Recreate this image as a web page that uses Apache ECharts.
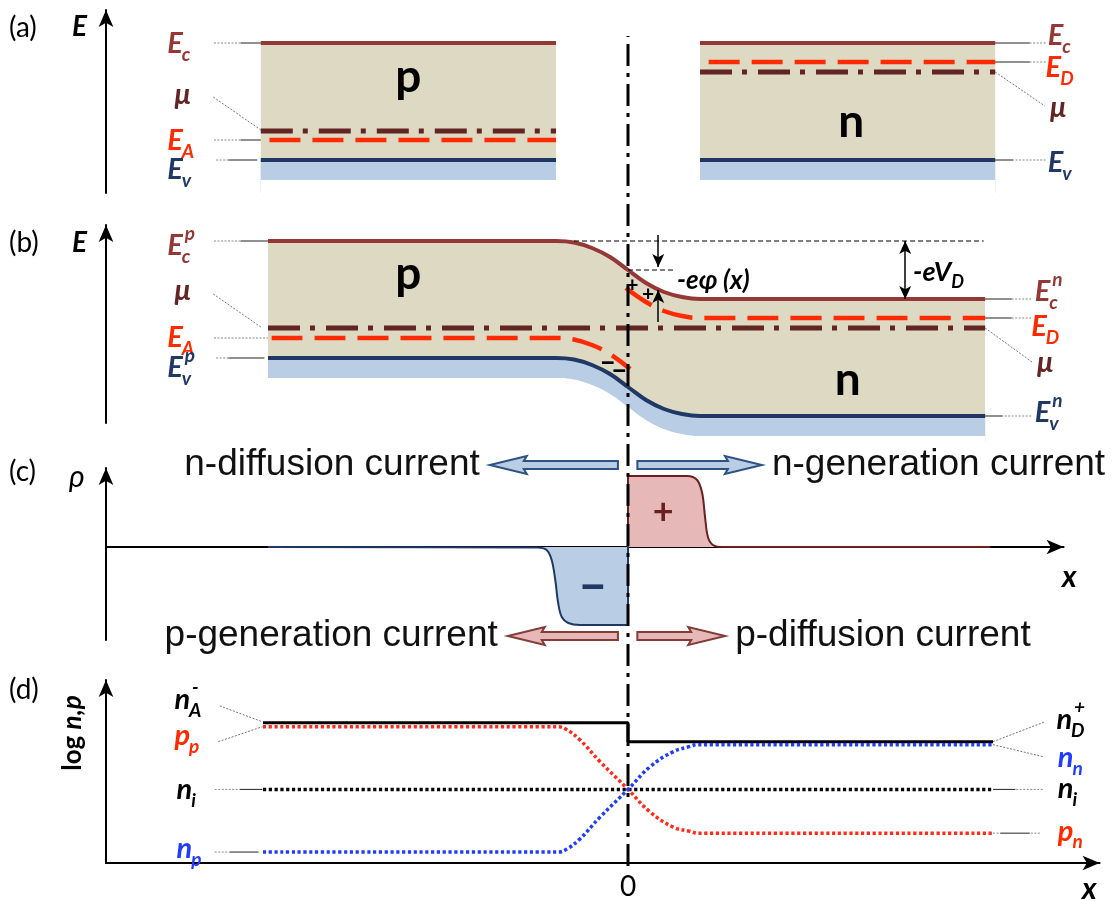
<!DOCTYPE html>
<html>
<head>
<meta charset="utf-8">
<title>p-n junction: bands, charge and carrier densities</title>
<script src="https://cdn.jsdelivr.net/npm/echarts@6.0.0/dist/echarts.min.js"></script>
<style>
html, body { margin: 0; padding: 0; background: #ffffff; }
#chart { width: 1117px; height: 901px; }
</style>
</head>
<body>
<div id="chart"></div>
<script>
// ---------- (a) separate p and n crystals (x in junction units, E in arbitrary units) ----------
const aPx = [-5.1, -1.0];
const aNx = [1.0, 5.1];
const aPEc = 11.7, aPMu = 2.9, aPEA = 2.0, aPEv = 0;
const aNEc = 11.7, aNED = 9.8, aNMu = 8.8, aNEv = 0;

// ---------- (b) junction in equilibrium ----------
const bX   = [-5.0, -1.0, -0.75, -0.5, -0.25, 0, 0.25, 0.5, 0.75, 1.0, 4.96];
const bEc  = [17.5, 17.5, 17.35, 16.8, 15.9, 14.6, 13.3, 12.4, 11.9, 11.7, 11.7];
const bEv  = [5.8, 5.8, 5.65, 5.1, 4.2, 2.9, 1.6, 0.7, 0.2, 0.0, 0.0];
const bEAx = [-4.95, -1.0, -0.75, -0.5, -0.25, 0.03];
const bEA  = [7.8, 7.8, 7.65, 7.1, 6.2, 4.7];
const bEDx = [-0.03, 0.25, 0.5, 0.75, 1.0, 4.96];
const bED  = [12.8, 11.4, 10.5, 10.0, 9.8, 9.8];
const bMuX = [-5.0, 4.96];
const bMu  = 8.8;

// ---------- (c) space charge density and currents ----------
const rhoNegX = [-5.0, -1.26, -1.13, -1.06, -1.01, -0.97, -0.92, -0.83, -0.67, 0];
const rhoNeg  = [0, -0.05, -0.3, -1.3, -3.3, -5.6, -7.0, -7.6, -7.8, -7.8];
const rhoPosX = [0, 0.82, 0.96, 1.03, 1.07, 1.11, 1.18, 1.32, 5.03];
const rhoPos  = [7.1, 7.1, 6.7, 5.4, 3.0, 1.0, 0.2, 0.0, 0.0];
const currentNames = ['n-diffusion current', 'n-generation current', 'p-generation current', 'p-diffusion current'];
const currentFrom  = [-0.14, 0.13, -0.14, 0.13];
const currentTo    = [-1.92, 1.86, -1.67, 1.35];
const currentAt    = [8.2, 8.2, -8.9, -8.9];

// ---------- (d) carrier densities (log scale) ----------
const dSpan = [-5.07, 5.07];
const dX  = [-5.07, -0.97, -0.85, -0.67, -0.39, 0, 0.31, 0.63, 0.85, 0.97, 5.07];
const dPp = [13.7, 13.7, 13.4, 12.4, 10.2, 7.4, 5.1, 3.6, 3.2, 3.0, 3.0];
const dNp = [1.1, 1.1, 1.4, 2.4, 4.6, 7.4, 9.7, 11.2, 11.7, 11.9, 11.9];
const dNA = 14.1, dND = 12.2, dNi = 7.4;

// ---------- styling ----------
const C_EC = '#953735', C_MU = '#632523', C_RED = '#ff2a00', C_EV = '#1f3864';
const C_BLUE = '#1f3cff', C_TAN = '#ddd9c3', C_BAND = '#b9cde5';
const FONT = 'Lato, "Noto Sans", sans-serif';
const MU_DASH = [32, 10, 5, 11], EA_DASH = [31, 12], DOT = [3.2, 2.6], VDASH = [22, 7, 4, 7];

const XMIN = -7.25, UNIT = 72;
const panels = [
  { top: 10,  height: 183, xmax: 6.5,  ymin: -3.3, ymax: 15,   xShow: false },
  { top: 225, height: 198, xmax: 6.5,  ymin: -0.7, ymax: 19.1, xShow: false },
  { top: 468, height: 172, xmax: 6.05, ymin: -9.3, ymax: 7.9,  xShow: true },
  { top: 680, height: 184, xmax: 6.55, ymin: 0,    ymax: 18.4, xShow: true },
  { top: 36,  height: 830, xmax: 6.5,  ymin: 0,    ymax: 1,    xShow: false }
];
const arrowAxis = { onZero: false, symbol: ['none', 'arrow'], symbolSize: [11, 17], lineStyle: { color: '#000', width: 2 } };

const zip = (xs, ys) => xs.map((x, i) => [x, ys[i]]);
const flat = (xs, v) => xs.map(x => [x, v]);
const S = [];
function addLine(g, pts, color, width, type, extra) {
  S.push(Object.assign({
    type: 'line', xAxisIndex: g, yAxisIndex: g, data: pts, symbol: 'none',
    silent: true, animation: false, clip: false,
    lineStyle: { color, width, type: type || 'solid', cap: 'butt' }
  }, extra || {}));
}
function addBand(g, pts, color, width, fill, origin) {
  addLine(g, pts, color, width, 'solid', { smooth: 0.4, areaStyle: { color: fill, opacity: 1, origin } });
}
// thin leader from a label to its level: dotted part then solid part
function leader(g, xa, xb, xc, y) {
  addLine(g, [[xa, y], [xb, y]], '#888', 1, [2, 1.5]);
  addLine(g, [[xb, y], [xc, y]], '#222', 1);
}
function slant(g, p, q) { addLine(g, [p, q], '#777', 1, [2, 1.5]); }

// ---- (a) ----
[[aPx, aPEc, aPEv], [aNx, aNEc, aNEv]].forEach(([xs, ec, ev]) => {
  addBand(0, flat(xs, ec), C_EC, 4, C_TAN, -3.3);
  addBand(0, flat(xs, ev), C_EV, 4, C_BAND, -3.3);
  addBand(0, flat(xs, ev - 2), '#fff', 0, '#fff', -3.3);
});
addLine(0, flat([aPx[0], aPx[1]], aPMu), C_MU, 5, MU_DASH);
addLine(0, flat([aPx[0] + 0.12, aPx[1]], aPEA), C_RED, 4.5, EA_DASH);
addLine(0, flat([aNx[0] + 0.12, aNx[1]], aNED), C_RED, 4.5, EA_DASH);
addLine(0, flat([aNx[0], aNx[1]], aNMu), C_MU, 5, MU_DASH);
leader(0, -5.75, -5.38, -5.1, aPEc);
slant(0, [-5.76, 6.3], [-5.08, aPMu]);
leader(0, -5.75, -5.38, -5.1, aPEA);
leader(0, -5.72, -5.55, -5.15, aPEv);
leader(0, 5.8, 5.58, 5.1, aNEc);
leader(0, 5.8, 5.58, 5.1, aNED);
slant(0, [5.1, aNMu], [5.79, 5.4]);
leader(0, 5.8, 5.35, 5.1, aNEv);

// ---- (b) ----
addBand(1, zip(bX, bEc), C_EC, 4, C_TAN, -2.6);
addBand(1, zip(bX, bEv), C_EV, 4, C_BAND, -2.6);
addBand(1, zip(bX, bEv.map(v => v - 2)), '#fff', 0, '#fff', -2.6);
addLine(1, flat(bMuX, bMu), C_MU, 5, MU_DASH);
addLine(1, zip(bEAx, bEA), C_RED, 4.5, EA_DASH, { smooth: 0.4 });
addLine(1, zip(bEDx, bED), C_RED, 4.5, EA_DASH, { smooth: 0.4 });
addLine(1, [[-0.75, bEc[0]], [4.94, bEc[0]]], '#000', 1.2, [5, 3]);
addLine(1, [[0, bEc[5]], [0.63, bEc[5]]], '#000', 1.2, [5, 3]);
leader(1, -5.75, -5.38, -5.0, bEc[0]);
slant(1, [-5.76, 12.2], [-5.08, bMu]);
addLine(1, [[-5.75, bEA[0]], [-5.0, bEA[0]]], '#888', 1, [2, 1.5]);
leader(1, -5.72, -5.55, -5.05, bEv[0]);
leader(1, 5.6, 5.33, 4.96, bEc[10]);
leader(1, 5.6, 5.33, 4.96, bED[5]);
slant(1, [4.96, bMu], [5.63, 5.3]);
leader(1, 5.6, 5.2, 4.96, bEv[10]);
S.push({
  type: 'line', xAxisIndex: 1, yAxisIndex: 1, data: [[0, -50]], symbol: 'none', silent: true, animation: false,
  markLine: {
    silent: true, animation: false, symbol: ['none', 'arrow'], symbolSize: [9, 13],
    label: { show: false }, lineStyle: { color: '#000', width: 1.5, type: 'solid' },
    data: [
      [{ coord: [0.42, 18.1] }, { coord: [0.42, 14.9] }],
      [{ coord: [0.42, 9.4] }, { coord: [0.42, 12.6] }],
      [{ coord: [3.85, bEc[0]], symbol: 'arrow' }, { coord: [3.85, bEc[10]] }]
    ]
  }
});

// ---- (c) ----
addLine(2, zip(rhoNegX, rhoNeg), '#1f3864', 2, 'solid', { smooth: 0.35, areaStyle: { color: C_BAND, opacity: 1, origin: 0 } });
addLine(2, [[0, rhoNeg[rhoNeg.length - 1]], [0, 0]], '#1f3864', 2);
addLine(2, zip(rhoPosX, rhoPos), '#6b1f1f', 2, 'solid', { smooth: 0.35, areaStyle: { color: '#e6b9b8', opacity: 1, origin: 0 } });
addLine(2, [[0, 0], [0, rhoPos[0]]], '#6b1f1f', 2);
S.push({
  type: 'custom', xAxisIndex: 2, yAxisIndex: 2, silent: true, animation: false, clip: false,
  data: currentNames.map((n, i) => [currentFrom[i], currentTo[i], currentAt[i], i]),
  encode: { x: [0, 1], y: 2 },
  renderItem(params, api) {
    const i = api.value(3);
    const p0 = api.coord([api.value(0), api.value(2)]);
    const p1 = api.coord([api.value(1), api.value(2)]);
    const dir = p1[0] > p0[0] ? 1 : -1;
    const y = p0[1], hl = 34, hs = 4, hh = 9;
    const xh = p1[0] - dir * hl;
    const blue = api.value(2) > 0;
    const pts = [[p0[0], y - hs], [xh, y - hs], [xh - dir * 3, y - hh], [p1[0], y],
                 [xh - dir * 3, y + hh], [xh, y + hs], [p0[0], y + hs]];
    return {
      type: 'group', children: [
        { type: 'polygon', shape: { points: pts },
          style: { fill: blue ? '#b9cde5' : '#e6b9b8', stroke: blue ? '#2e5283' : '#843c39', lineWidth: 2 } },
        { type: 'text', x: p1[0] + dir * 10, y: y,
          style: { text: currentNames[i], font: '37px "Liberation Sans", Arial, sans-serif', fill: '#111',
                   align: dir > 0 ? 'left' : 'right', verticalAlign: 'middle' } }
      ]
    };
  }
});

// ---- (d) ----
addLine(3, [[dSpan[0], dNA], [0, dNA], [0, dND], [dSpan[1], dND]], '#000', 3);
addLine(3, flat(dSpan, dNi), '#000', 3.5, DOT);
addLine(3, zip(dX, dPp), '#ff2a1a', 3.5, DOT, { smooth: 0.4 });
addLine(3, zip(dX, dNp), C_BLUE, 3.5, DOT, { smooth: 0.4 });
slant(3, [-5.67, 15.8], [-5.08, dNA + 0.1]);
slant(3, [-5.69, 12.2], [-5.08, dPp[0]]);
leader(3, -5.74, -5.39, -5.08, dNi);
leader(3, -5.74, -5.53, -5.13, dNp[0]);
slant(3, [5.07, dND], [5.79, 14.2]);
slant(3, [5.07, dNp[10]], [5.76, 10.7]);
leader(3, 5.76, 5.38, 5.07, dNi);
leader(3, 5.72, 5.58, 5.17, dPp[10]);
addLine(3, [[5.07, dPp[10]], [5.17, dPp[10]]], '#888', 1, [2, 1.5]);

// ---- junction plane through all panels ----
addLine(4, [[0, 0], [0, 1]], '#000', 3, VDASH, { z: 10 });

const option = {
  backgroundColor: '#ffffff',
  animation: false,
  grid: panels.map(p => ({ left: 106, top: p.top, width: (p.xmax - XMIN) * UNIT, height: p.height })),
  xAxis: panels.map((p, i) => ({
    type: 'value', gridIndex: i, min: XMIN, max: p.xmax, show: p.xShow,
    axisLine: { onZero: true, symbol: ['none', 'arrow'], symbolSize: [11, 17], lineStyle: { color: '#000', width: 2 } },
    axisTick: { show: false }, splitLine: { show: false },
    axisLabel: i === 3 ? { show: true, customValues: [0], margin: 10, color: '#000', fontSize: 28, fontFamily: FONT } : { show: false }
  })),
  yAxis: panels.map((p, i) => ({
    type: 'value', gridIndex: i, min: p.ymin, max: p.ymax, show: i < 4,
    axisLine: arrowAxis, axisTick: { show: false }, axisLabel: { show: false }, splitLine: { show: false }
  })),
  series: S
};

const chart = echarts.init(document.getElementById('chart'));
chart.setOption(option);

// ---------- text ----------
const meas = document.createElement('canvas').getContext('2d');
function tw(text, font) { meas.font = font; return meas.measureText(text).width; }
const P = (g, x, y) => chart.convertToPixel({ gridIndex: g }, [x, y]);
const G = [];
function txt(x, y, text, font, fill, align) {
  G.push({ type: 'text', x, y, z: 100, style: { text, font, fill, align: align || 'left', verticalAlign: 'middle' } });
}
function sym(g, x, y, main, sub, sup, color) {
  const [px, py] = P(g, x, y);
  const f = `italic bold 29px ${FONT}`, fs = `italic bold 19px ${FONT}`;
  const w = tw(main, f);
  txt(px, py, main, f, color);
  if (sub) txt(px + w - 1, py + 11, sub, fs, color);
  if (sup) txt(px + w + 2, py - 12, sup, fs, color);
}
[
  [0, -6.4, 11.6, 'E', 'c', null, C_EC], [0, -6.3, 6.5, 'μ', null, null, C_MU],
  [0, -6.4, 1.9, 'E', 'A', null, C_RED], [0, -6.4, -1.0, 'E', 'v', null, C_EV],
  [0, 5.83, 12.4, 'E', 'c', null, C_EC], [0, 5.8, 9.2, 'E', 'D', null, C_RED],
  [0, 5.86, 5.2, 'μ', null, null, C_MU], [0, 5.83, -0.3, 'E', 'v', null, C_EV],
  [1, -6.4, 17.0, 'E', 'c', 'p', C_EC], [1, -6.3, 12.5, 'μ', null, null, C_MU],
  [1, -6.4, 7.8, 'E', 'A', null, C_RED], [1, -6.4, 4.8, 'E', 'v', 'p', C_EV],
  [1, 5.65, 12.4, 'E', 'c', 'n', C_EC], [1, 5.6, 8.9, 'E', 'D', null, C_RED],
  [1, 5.68, 5.3, 'μ', null, null, C_MU], [1, 5.65, 0.3, 'E', 'v', 'n', C_EV],
  [3, -6.3, 16.4, 'n', 'A', '-', '#000'], [3, -6.3, 12.8, 'p', 'p', null, C_RED],
  [3, -6.27, 7.4, 'n', 'i', null, '#000'], [3, -6.27, 1.4, 'n', 'p', null, C_BLUE],
  [3, 5.95, 14.4, 'n', 'D', '+', '#000'], [3, 5.97, 10.6, 'n', 'n', null, C_BLUE],
  [3, 5.97, 7.5, 'n', 'i', null, '#000'], [3, 5.97, 3.2, 'p', 'n', null, C_RED]
].forEach(a => sym(...a));

// panel tags and axis names
[['(a)', 28], ['(b)', 243], ['(c)', 472], ['(d)', 690]].forEach(([t, y]) => txt(9, y, t, `28px ${FONT}`, '#000'));
txt(72, 27, 'E', `italic bold 28px ${FONT}`, '#000');
txt(72, 243, 'E', `italic bold 28px ${FONT}`, '#000');
txt(69, 477, 'ρ', `italic 30px ${FONT}`, '#000');
G.push({
  type: 'text', x: 73, y: 733, rotation: Math.PI / 2, z: 100,
  style: { text: '{a|log }{b|n,p}', align: 'center', verticalAlign: 'middle',
           rich: { a: { font: `bold 26px ${FONT}`, fill: '#000' }, b: { font: `italic bold 26px ${FONT}`, fill: '#000' } } }
});
txt(1062, 577, 'x', `italic bold 30px ${FONT}`, '#000');
txt(1082, 889, 'x', `italic bold 30px ${FONT}`, '#000');

// region letters
function big(g, x, y, t) { const [px, py] = P(g, x, y); txt(px, py, t, `bold 46px ${FONT}`, '#000', 'center'); }
big(0, -3.05, 8.3, 'p'); big(0, 3.1, 3.8, 'n');
big(1, -3.05, 14.2, 'p'); big(1, 3.05, 3.6, 'n');

// potential annotations in (b), charge signs in (c)
(function () {
  let [px, py] = P(1, 0.68, 13.5);
  txt(px, py, '-eφ (x)', `italic bold 26px ${FONT}`, '#000');
  [px, py] = P(1, 3.96, 14.4);
  const f = `italic bold 27px ${FONT}`;
  txt(px, py, '-eV', f, '#000');
  txt(px + tw('-eV', f), py + 10, 'D', `italic bold 18px ${FONT}`, '#000');
  [[0.06, 13.1], [0.28, 12.2]].forEach(([x, y]) => {
    const q = P(1, x, y); txt(q[0], q[1], '+', `bold 21px ${FONT}`, '#000', 'center');
  });
  [[-0.28, 5.2], [-0.12, 4.4]].forEach(([x, y]) => {
    const q = P(1, x, y); txt(q[0], q[1], '−', `900 26px ${FONT}`, '#000', 'center');
  });
  let q = P(2, 0.49, 3.5);
  txt(q[0], q[1], '+', `bold 36px ${FONT}`, '#6b1f1f', 'center');
  q = P(2, -0.49, -4.0);
  txt(q[0], q[1], '−', `900 46px ${FONT}`, '#1f3864', 'center');
})();

chart.setOption({ graphic: G });
</script>
</body>
</html>
